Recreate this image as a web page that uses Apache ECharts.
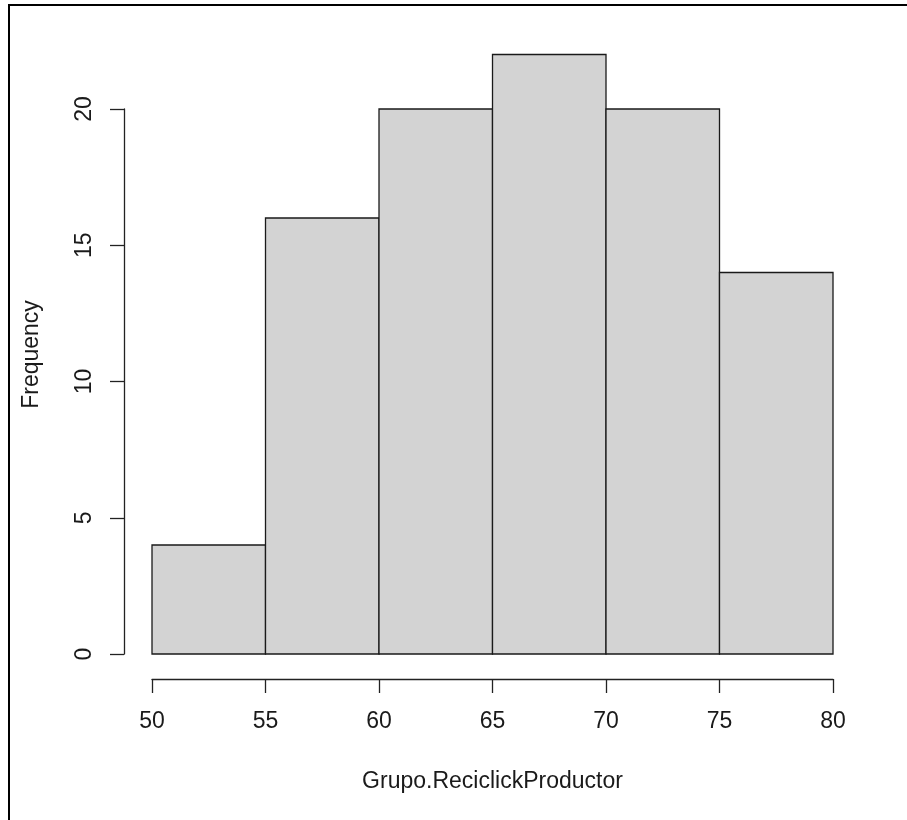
<!DOCTYPE html>
<html>
<head>
<meta charset="utf-8">
<script src="https://cdn.jsdelivr.net/npm/echarts@6/dist/echarts.min.js"></script>
<style>
  html, body { margin: 0; padding: 0; background: #fff; }
  #chart { width: 907px; height: 820px; }
</style>
</head>
<body>
<div id="chart"></div>
<script>
  // histogram of Grupo.ReciclickProductor
  var breaks = [50, 55, 60, 65, 70, 75, 80]
  var counts = [4, 16, 20, 22, 20, 14]
  var yTicks = [0, 5, 10, 15, 20]

  var bins = counts.map(function (c, i) {
    return [breaks[i], breaks[i + 1], c]
  })

  var font = 'Liberation Sans, Arial, sans-serif'
  var myChart = echarts.init(document.getElementById('chart'))
  myChart.setOption({
    animation: false,
    backgroundColor: '#fff',
    graphic: [{
      type: 'rect',
      shape: { x: 9, y: 5, width: 1200, height: 1200 },
      style: { fill: 'none', stroke: '#000', lineWidth: 2 },
      silent: true
    }],
    grid: {
      left: 152,
      right: 74,
      top: 109,
      bottom: 166
    },
    xAxis: {
      type: 'value',
      min: breaks[0],
      max: breaks[breaks.length - 1],
      interval: 5,
      offset: 25,
      splitLine: { show: false },
      axisLine: { show: true, onZero: false, lineStyle: { color: '#222', width: 1.3 } },
      axisTick: { show: true, length: 14, lineStyle: { color: '#222', width: 1.3 } },
      axisLabel: { color: '#1a1a1a', fontSize: 23, fontFamily: font, margin: 31 },
      name: 'Grupo.ReciclickProductor',
      nameLocation: 'middle',
      nameGap: 91,
      nameTextStyle: { color: '#1a1a1a', fontSize: 23, fontFamily: font }
    },
    yAxis: {
      type: 'value',
      min: yTicks[0],
      max: yTicks[yTicks.length - 1],
      interval: 5,
      offset: 28,
      splitLine: { show: false },
      axisLine: { show: true, onZero: false, lineStyle: { color: '#222', width: 1.3 } },
      axisTick: { show: true, length: 14, lineStyle: { color: '#222', width: 1.3 } },
      axisLabel: { color: '#1a1a1a', fontSize: 23, fontFamily: font, rotate: 90, margin: 28 },
      name: 'Frequency',
      nameLocation: 'middle',
      nameGap: 81,
      nameRotate: 90,
      nameTextStyle: { color: '#1a1a1a', fontSize: 23, fontFamily: font, padding: [0, 0, 0, 54] }
    },
    series: [{
      type: 'custom',
      clip: false,
      data: bins,
      encode: { x: [0, 1], y: 2 },
      renderItem: function (params, api) {
        var p0 = api.coord([api.value(0), api.value(2)])
        var p1 = api.coord([api.value(1), 0])
        return {
          type: 'rect',
          shape: { x: p0[0], y: p0[1], width: p1[0] - p0[0], height: p1[1] - p0[1] },
          style: { fill: '#d3d3d3', stroke: '#1a1a1a', lineWidth: 1.3 }
        }
      }
    }]
  })
</script>
</body>
</html>
